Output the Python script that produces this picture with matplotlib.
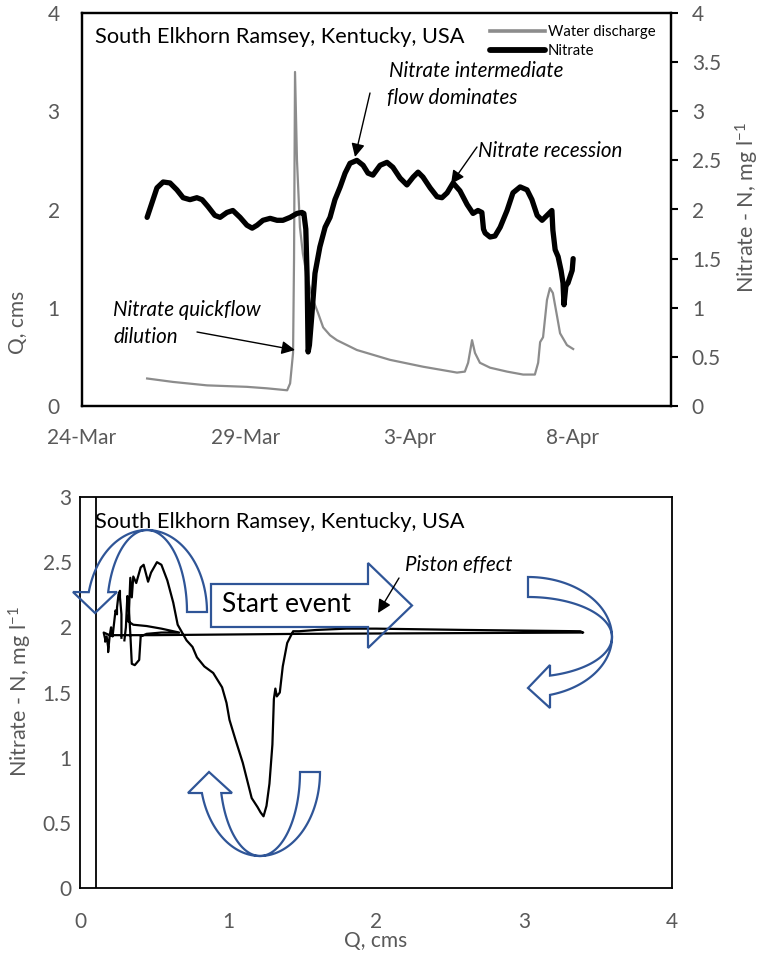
import numpy as np
import pandas as pd
import matplotlib
matplotlib.use("Agg")
import matplotlib.pyplot as plt
from matplotlib.path import Path
from matplotlib.patches import PathPatch, FancyArrowPatch
from matplotlib.ticker import FuncFormatter

plt.rcParams['font.family'] = ['Lato', 'DejaVu Sans']
plt.rcParams['mathtext.fontset'] = 'custom'
plt.rcParams['mathtext.rm'] = 'Lato'
plt.rcParams['mathtext.it'] = 'Lato:italic'

W, H = 761, 955
START = pd.Timestamp('2010-03-24')

# ---- discharge record: days after 24 March, cms ----
q_days = [1.99, 2.78, 3.82, 5.04, 5.65, 6.27, 6.36, 6.45, 6.48, 6.51, 6.57, 6.66,
          6.75, 6.88, 7.06, 7.21, 7.37, 7.58, 7.79, 8.40, 9.41, 10.42, 11.46,
          11.70, 11.80, 11.92, 12.01, 12.16, 12.47, 12.99, 13.48, 13.84, 13.94,
          14.00, 14.09, 14.21, 14.30, 14.39, 14.52, 14.61, 14.82, 15.01]
q_cms = [0.28, 0.245, 0.21, 0.195, 0.18, 0.16, 0.23, 0.54, 1.50, 3.40, 2.50, 1.82,
         1.55, 1.31, 1.08, 0.95, 0.80, 0.72, 0.67, 0.57, 0.47, 0.40, 0.34,
         0.35, 0.44, 0.67, 0.54, 0.44, 0.39, 0.35, 0.32, 0.32, 0.44,
         0.65, 0.70, 1.08, 1.20, 1.15, 0.91, 0.74, 0.62, 0.58]

# ---- nitrate record: days after 24 March, mg/l ----
n_days = [1.99, 2.14, 2.29, 2.48, 2.69, 2.90, 3.09, 3.30, 3.51, 3.67, 3.85, 4.06,
          4.22, 4.43, 4.61, 4.83, 5.04, 5.20, 5.35, 5.53, 5.75, 5.96, 6.14, 6.36,
          6.57, 6.72, 6.78, 6.84, 6.88, 6.91, 6.95, 7.03, 7.12, 7.27, 7.43, 7.58,
          7.73, 7.89, 8.04, 8.19, 8.40, 8.59, 8.74, 8.89, 9.11, 9.32, 9.50, 9.72,
          9.93, 10.12, 10.27, 10.42, 10.64, 10.85, 11.00, 11.16, 11.34, 11.55,
          11.77, 11.95, 12.10, 12.22, 12.27, 12.32, 12.47, 12.62, 12.78, 12.99,
          13.17, 13.39, 13.60, 13.75, 13.91, 14.06, 14.21, 14.36, 14.39, 14.46,
          14.55, 14.64, 14.70, 14.73, 14.79, 14.85, 14.98, 15.01]
n_mgl = [1.92, 2.07, 2.22, 2.28, 2.27, 2.20, 2.12, 2.10, 2.12, 2.10, 2.03, 1.94,
         1.92, 1.97, 1.99, 1.92, 1.84, 1.81, 1.84, 1.89, 1.91, 1.89, 1.89, 1.92,
         1.96, 1.97, 1.96, 1.80, 1.31, 0.55, 0.62, 0.95, 1.35, 1.62, 1.82, 1.92,
         2.10, 2.23, 2.37, 2.47, 2.50, 2.45, 2.37, 2.35, 2.45, 2.48, 2.43, 2.32,
         2.25, 2.33, 2.38, 2.33, 2.22, 2.13, 2.12, 2.17, 2.27, 2.19,
         2.05, 1.96, 1.99, 1.97, 1.80, 1.76, 1.72, 1.73, 1.82, 1.99,
         2.17, 2.23, 2.20, 2.10, 1.94, 1.89, 1.94, 1.99, 1.79, 1.59,
         1.52, 1.38, 1.25, 1.03, 1.23, 1.25, 1.38, 1.50]

# ---- concentration-discharge loop ----
loop_q = [0.28, 0.28, 0.27, 0.27, 0.26, 0.25, 0.25, 0.24, 0.23, 0.22, 0.21, 0.21,
          0.20, 0.19, 0.19, 0.18, 0.17, 0.17, 0.16, 0.20, 0.50, 1.50, 3.40,
          3.38, 2.60, 2.00, 1.80, 1.60, 1.48, 1.44, 1.40, 1.37, 1.35, 1.33, 1.32,
          1.31, 1.30, 1.28, 1.26, 1.24,
          1.22, 1.20, 1.16, 1.14, 1.10, 1.05, 1.01, 0.99, 0.96, 0.90, 0.84, 0.79,
          0.76, 0.72, 0.66, 0.63, 0.59, 0.55, 0.52, 0.48, 0.46, 0.43, 0.41, 0.38,
          0.36, 0.35, 0.34, 0.33,
          0.32, 0.36, 0.45, 0.55, 0.67, 0.55, 0.45, 0.41,
          0.40, 0.37, 0.35, 0.34, 0.33, 0.32, 0.31, 0.30]
loop_n = [1.92, 2.10, 2.23, 2.28, 2.25, 2.15, 2.10, 2.13, 2.03, 1.93, 1.96, 2.00,
          1.93, 1.81, 1.85, 1.93, 1.89, 1.91, 1.96, 1.94, 1.94, 1.95, 1.96,
          1.97, 1.98, 1.99, 1.99, 1.98, 1.97, 1.97, 1.88, 1.70, 1.50, 1.47, 1.53,
          1.45, 1.10, 0.80, 0.63, 0.55,
          0.58, 0.62, 0.69, 0.78, 0.96, 1.14, 1.29, 1.42, 1.54, 1.65, 1.70, 1.77,
          1.85, 1.90, 2.02, 2.19, 2.36, 2.48, 2.50, 2.42, 2.35, 2.48, 2.46, 2.34,
          2.39, 2.23, 2.38, 2.10,
          2.05, 2.02, 2.01, 1.99, 1.96, 1.96, 1.95, 1.93,
          1.75, 1.71, 1.72, 1.95, 2.15, 2.24, 2.00, 1.90]
gauge_q = [0.105, 0.105]
gauge_n = [0.0, 3.0]

date_ticks = ['2010-03-24', '2010-03-29', '2010-04-03', '2010-04-08']

GRAY_TXT = '#595959'
Q_COLOR = '#8c8c8c'
SHAPE = '#2F5597'


def fx(x):
    return x / W


def fy(y):
    return 1 - y / H


def day_label(v, pos):
    d = pd.Timestamp(matplotlib.dates.num2date(v))
    return f"{d.day}-{d.strftime('%b')}"


fig = plt.figure(figsize=(W / 100, H / 100), dpi=100)

# ================= time series panel =================
ax = fig.add_axes([fx(82), fy(406), fx(671) - fx(82), fy(13) - fy(406)])
ax2 = ax.twinx()
q_time = START + pd.to_timedelta(q_days, unit='D')
n_time = START + pd.to_timedelta(n_days, unit='D')

lq, = ax.plot(q_time, q_cms, color=Q_COLOR, lw=1.6, solid_joinstyle='round')
ln, = ax2.plot(n_time, n_mgl, color='black', lw=3.8, solid_joinstyle='round',
               solid_capstyle='round')

ax.set_xlim(START, START + pd.Timedelta(days=18))
ax.set_ylim(0, 4)
ax2.set_ylim(0, 4)
ax.set_xticks(pd.to_datetime(date_ticks))
ax.xaxis.set_major_formatter(FuncFormatter(day_label))
ax.set_yticks(np.arange(0, 5, 1))
ax2.set_yticks(np.arange(0, 4.01, 0.5))
ax2.yaxis.set_major_formatter(FuncFormatter(lambda v, p: f"{v:g}"))
ax.tick_params(axis='x', length=0, pad=16, labelsize=15, labelcolor=GRAY_TXT)
ax.tick_params(axis='y', length=0, pad=16, labelsize=15, labelcolor=GRAY_TXT)
ax2.tick_params(axis='y', length=5, width=1.5, color='black', direction='out',
                pad=10, labelsize=15, labelcolor=GRAY_TXT)
for a in (ax, ax2):
    for s in a.spines.values():
        s.set_linewidth(1.6)
        s.set_color('black')

fig.text(fx(95), fy(37), 'South Elkhorn Ramsey, Kentucky, USA', fontsize=15.7,
         ha='left', va='center')
fig.text(fx(18), fy(322), 'Q, cms', rotation=90, ha='center', va='center',
         fontsize=15, color=GRAY_TXT)
fig.text(fx(747), fy(208), 'Nitrate - N, mg l$^{-1}$', rotation=90, ha='center',
         va='center', fontsize=15.5, color=GRAY_TXT)

leg = ax2.legend([lq, ln], ['Water discharge', 'Nitrate'], loc='upper left',
                 bbox_to_anchor=(fx(490), fy(25)), bbox_transform=fig.transFigure,
                 frameon=False, fontsize=10.7, handlelength=3.7, handletextpad=0.2,
                 borderpad=0, borderaxespad=0, labelspacing=0.32)
leg.get_lines()[0].set_linewidth(2.6)
leg.get_lines()[1].set_linewidth(4.2)

ital = dict(fontsize=14.8, style='italic', ha='left', va='center')
fig.text(fx(389), fy(71), 'Nitrate intermediate', **ital)
fig.text(fx(387), fy(98), 'flow dominates', **ital)
fig.text(fx(478), fy(151), 'Nitrate recession', **ital)
fig.text(fx(113), fy(310), 'Nitrate quickflow', **ital)
fig.text(fx(113), fy(337), 'dilution', **ital)


def pointer(x0, y0, x1, y1):
    fig.add_artist(FancyArrowPatch((fx(x0), fy(y0)), (fx(x1), fy(y1)),
                                   transform=fig.transFigure, arrowstyle='-|>',
                                   mutation_scale=20, lw=1.0, color='black',
                                   shrinkA=0, shrinkB=0, zorder=10))


pointer(370, 93, 355, 157)
pointer(477, 147, 451, 184)
pointer(197, 332, 295, 350)

# ================= loop panel =================
bx = fig.add_axes([fx(80), fy(888), fx(672) - fx(80), fy(497) - fy(888)])
bx.plot(loop_q, loop_n, color='black', lw=1.6, solid_joinstyle='round')
bx.plot(gauge_q, gauge_n, color='black', lw=1.3)
bx.set_xlim(0, 4)
bx.set_ylim(0, 3)
bx.set_xticks(np.arange(0, 5, 1))
bx.set_yticks(np.arange(0, 3.01, 0.5))
bx.yaxis.set_major_formatter(FuncFormatter(lambda v, p: f"{v:g}"))
bx.tick_params(axis='x', length=0, pad=17, labelsize=15, labelcolor=GRAY_TXT)
bx.tick_params(axis='y', length=0, pad=6, labelsize=15, labelcolor=GRAY_TXT)
for s in bx.spines.values():
    s.set_linewidth(1.3)
    s.set_color('black')

fig.text(fx(95), fy(522), 'South Elkhorn Ramsey, Kentucky, USA', fontsize=15.7,
         ha='left', va='center')
fig.text(fx(20), fy(692), 'Nitrate - N, mg l$^{-1}$', rotation=90, ha='center',
         va='center', fontsize=15.5, color=GRAY_TXT)
fig.text(fx(376), fy(941), 'Q, cms', ha='center', va='center', fontsize=15,
         color=GRAY_TXT)
fig.text(fx(405), fy(565), 'Piston effect', **ital)
pointer(399, 578, 378, 613)


def arc(cx, cy, rx, ry, t0, t1, n=80):
    t = np.radians(np.linspace(t0, t1, n))
    return list(zip(cx + rx * np.cos(t), cy - ry * np.sin(t)))


def shape(points):
    verts = [(fx(x), fy(y)) for x, y in points]
    verts.append(verts[0])
    codes = [Path.MOVETO] + [Path.LINETO] * (len(verts) - 2) + [Path.CLOSEPOLY]
    fig.add_artist(PathPatch(Path(verts, codes), transform=fig.transFigure,
                             facecolor='none', edgecolor=SHAPE, lw=1.6,
                             joinstyle='miter', zorder=5))


# curved arrow over the top-left of the loop
pts = arc(147, 612, 60, 82, 0, 166)
pts += [(73, 592), (95, 613), (117, 592)]
pts += arc(147, 612, 40, 82, 166, 0)
shape(pts)

# U-turn arrow under the dilution trough
pts = arc(260, 772, 60, 84, 0, -165.5)
pts += [(188, 793), (209, 772), (232, 793)]
pts += arc(260, 772, 40, 84, -165.5, 0)
shape(pts)

# return arrow at the discharge peak
pts = arc(528, 637, 84, 60, 90, -74.8)
pts += [(550, 708), (528, 688), (550, 665)]
pts += arc(528, 637, 84, 40, -74.8, 90)
shape(pts)

# block arrow marking the start of the event
shape([(211, 584), (368, 584), (368, 563), (412, 605.5), (368, 648), (368, 627),
       (211, 627)])
fig.text(fx(222), fy(605), 'Start event', fontsize=19, ha='left', va='center')

fig.savefig('out.png', dpi=100)
